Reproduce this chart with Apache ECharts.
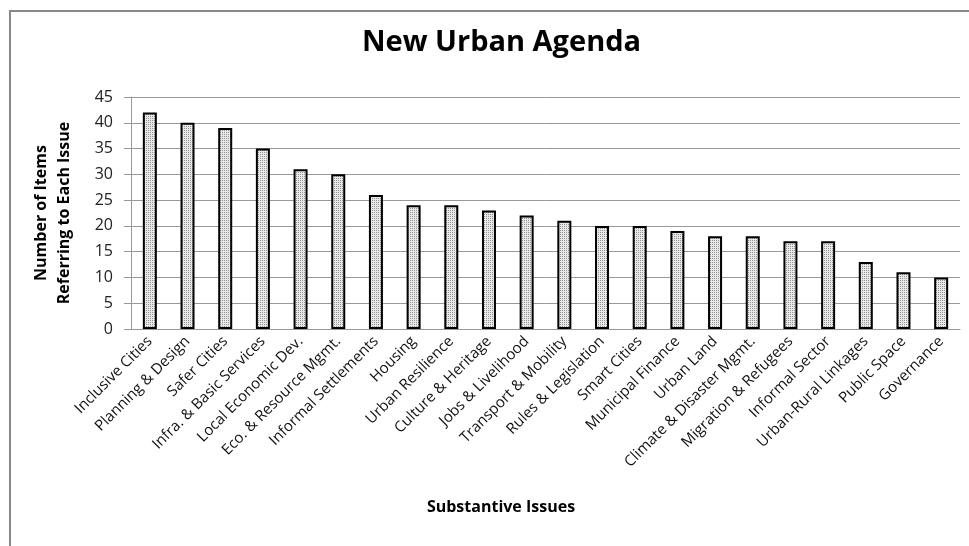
<!DOCTYPE html>
<html>
<head>
<meta charset="utf-8">
<script src="https://cdn.jsdelivr.net/npm/echarts@6/dist/echarts.min.js"></script>
<style>html,body{margin:0;padding:0;background:#fff;}#chart{width:969px;height:546px;}</style>
</head>
<body>
<div id="chart"></div>
<script>
var categories = ['Inclusive Cities','Planning & Design','Safer Cities','Infra. & Basic Services','Local Economic Dev.','Eco. & Resource Mgmt.','Informal Settlements','Housing','Urban Resilience','Culture & Heritage','Jobs & Livelihood','Transport & Mobility','Rules & Legislation','Smart Cities','Municipal Finance','Urban Land','Climate & Disaster Mgmt.','Migration & Refugees','Informal Sector','Urban-Rural Linkages','Public Space','Governance'];
var values = [42,40,39,35,31,30,26,24,24,23,22,21,20,20,19,18,18,17,17,13,11,10];
var yTicks = [0,5,10,15,20,25,30,35,40,45];

var FONT = '"Open Sans", sans-serif';

function makePattern() {
  var c = document.createElement('canvas');
  c.width = 2; c.height = 2;
  var ctx = c.getContext('2d');
  ctx.fillStyle = '#e8e8e8'; ctx.fillRect(0,0,2,2);
  ctx.fillStyle = '#949494'; ctx.fillRect(0,0,1,1);
  return c;
}
var pattern = makePattern();

var chart = echarts.init(document.getElementById('chart'), null, {renderer:'canvas'});
chart.setOption({
  animation: false,
  backgroundColor: '#fff',
  title: {
    text: 'New Urban Agenda',
    left: 357, top: 23,
    textStyle: {fontFamily: FONT, fontSize: 29, fontWeight: 'bold', color: '#000'}
  },
  grid: {left: 131, right: 9, top: 97, bottom: 217, containLabel: false},
  xAxis: {
    type: 'category',
    data: categories,
    axisLine: {lineStyle: {color: '#999', width: 1}},
    axisTick: {show: false},
    axisLabel: {rotate: 45, interval: 0, margin: 10, fontFamily: FONT, fontSize: 15, color: '#111'}
  },
  yAxis: {
    type: 'value',
    min: 0, max: 45, interval: 5,
    name: 'Number of Items\nReferring to Each Issue',
    nameLocation: 'middle', nameRotate: 90, nameGap: 55,
    nameTextStyle: {fontFamily: FONT, fontSize: 16, fontWeight: 'bold', color: '#000', lineHeight: 23},
    axisLine: {show: true, lineStyle: {color: '#999', width: 1}},
    axisTick: {show: true, length: 7, lineStyle: {color: '#999'}},
    axisLabel: {margin: 18, fontFamily: FONT, fontSize: 16, color: '#222',
      formatter: function(v){ return yTicks.indexOf(v) >= 0 ? String(v) : ''; }},
    splitLine: {lineStyle: {color: '#999', width: 1}}
  },
  graphic: [
    {type: 'rect', silent: true, shape: {x: 10, y: 11, width: 2000, height: 2000},
     style: {fill: 'none', stroke: '#888', lineWidth: 2}},
    {type: 'text', x: 501, y: 507, silent: true,
     style: {text: 'Substantive Issues', fontFamily: FONT, fontSize: 16, fontWeight: 'bold', fill: '#000', textAlign: 'center', textVerticalAlign: 'middle'}}
  ],
  series: [{
    type: 'bar',
    data: values,
    barWidth: 14,
    itemStyle: {color: {image: pattern, repeat: 'repeat'}, borderColor: '#000', borderWidth: 2}
  }]
});
</script>
</body>
</html>
